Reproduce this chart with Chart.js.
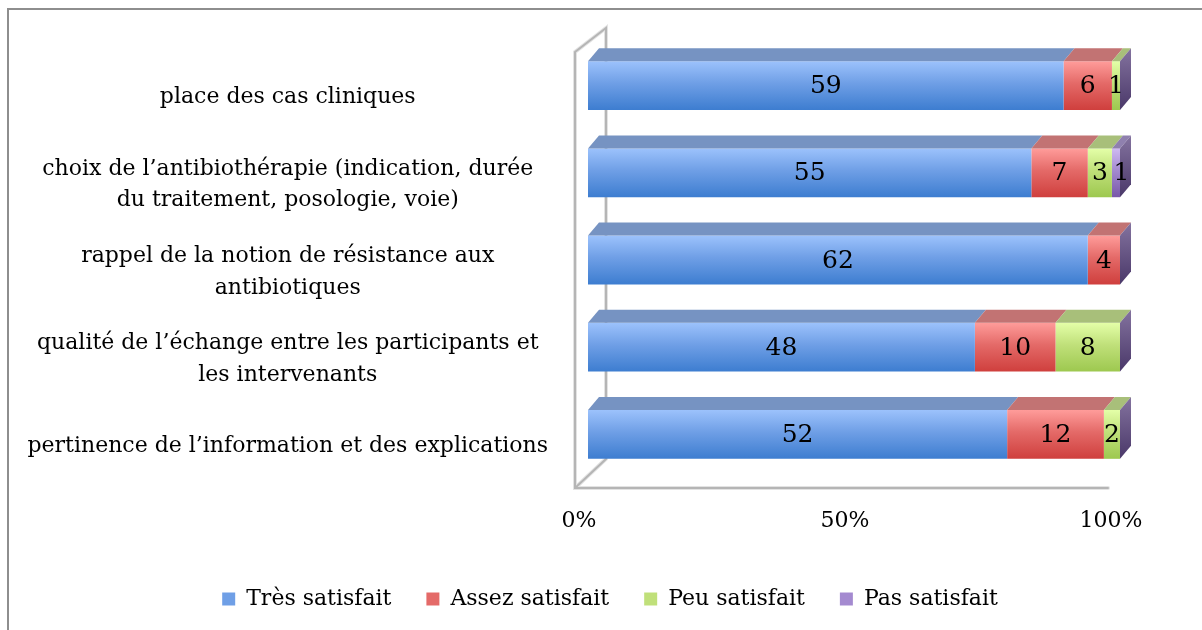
<!DOCTYPE html>
<html>
<head>
<meta charset="utf-8">
<script src="https://cdn.jsdelivr.net/npm/chart.js@4.4.1/dist/chart.umd.min.js"></script>
<style>
    html, body { margin: 0; padding: 0; background: #fff; }
    #frame {
        position: absolute; left: 7px; top: 8px; width: 1200px; height: 630px;
        border-left: 2px solid #8e8e8e; border-top: 2px solid #8e8e8e;
    }
    #chart { position: absolute; left: 0; top: 0; }
</style>
</head>
<body>
<div id="frame"></div>
<canvas id="chart" width="1202" height="630"></canvas>
<script>
const categories = [
    "place des cas cliniques",
    ["choix de l’antibiothérapie (indication, durée", "du traitement, posologie, voie)"],
    ["rappel de la notion de résistance aux", "antibiotiques"],
    ["qualité de l’échange entre les participants et", "les intervenants"],
    "pertinence de l’information et des explications"
];
const seriesNames = ["Très satisfait", "Assez satisfait", "Peu satisfait", "Pas satisfait"];
const tresSatisfait = [59, 55, 62, 48, 52];
const assezSatisfait = [6, 7, 4, 10, 12];
const peuSatisfait = [1, 3, 0, 8, 2];
const pasSatisfait = [0, 1, 0, 0, 0];
const xTicks = [0, 50, 100];

const FONT = "'DejaVu Serif', 'Liberation Serif', serif";
const BAR_RATIO = 0.56;
const DEPTH = { dx: 11, dy: 13 };

// colours of each series: front gradient, top face, side face
const palette = [
    { light: '#9cc2fc', dark: '#3d7dd0', mid: '#6f9fe6', top: '#7693c2', side: ['#6f87b3', '#3b5a8f'] },
    { light: '#ff9c9a', dark: '#cf3f3d', mid: '#e46a68', top: '#c27373', side: ['#b06868', '#8a3434'] },
    { light: '#e4ffa8', dark: '#9dc84f', mid: '#c0e07a', top: '#a8bf7a', side: ['#9bb86a', '#6f9138'] },
    { light: '#cfbaf2', dark: '#7858a8', mid: '#a48ad0', top: '#8f80ae', side: ['#84739f', '#4a3869'] }
];

const rawSeries = [tresSatisfait, assezSatisfait, peuSatisfait, pasSatisfait];
const totals = categories.map((c, j) => rawSeries.reduce((s, arr) => s + arr[j], 0));

function frontGradient(i) {
    return (ctx) => {
        const chart = ctx.chart;
        const yScale = chart.scales.y;
        if (!chart.chartArea || !yScale || ctx.type !== 'data') {
            return palette[i].mid;
        }
        const y = yScale.getPixelForValue(ctx.dataIndex);
        const half = (yScale.height / categories.length) * BAR_RATIO / 2;
        const g = chart.ctx.createLinearGradient(0, y - half, 0, y + half);
        g.addColorStop(0, palette[i].light);
        g.addColorStop(0.45, palette[i].mid);
        g.addColorStop(1, palette[i].dark);
        return g;
    };
}

const datasets = rawSeries.map((arr, i) => ({
    label: seriesNames[i],
    data: arr.map((v, j) => v / totals[j] * 100),
    counts: arr,
    backgroundColor: frontGradient(i),
    borderWidth: 0,
    barPercentage: BAR_RATIO,
    categoryPercentage: 1
}));

/**
 * Draws the left wall and floor of the 3D frame.
 */
const wallPlugin = {
    id: 'wall',
    afterLayout(chart) {
        // legend sits a bit right of the plot centre
        chart.legend.left += 40;
        chart.legend.right += 40;
    },
    beforeDatasetsDraw(chart) {
        const { ctx, chartArea } = chart;
        const x0 = chartArea.left - 13;
        const y0 = chartArea.bottom + 10;
        const x1 = x0 + 31;
        const y1 = y0 - 29;
        const yTopFront = chartArea.top + 10;
        const yTopBack = chartArea.top - 14;
        ctx.save();
        ctx.lineCap = 'round';
        [['#e3e3e3', 4], ['#b5b5b5', 2]].forEach(([color, width]) => {
            ctx.strokeStyle = color;
            ctx.lineWidth = width;
            ctx.beginPath();
            ctx.moveTo(chartArea.right - 12, y0);
            ctx.lineTo(x0, y0);
            ctx.lineTo(x0, yTopFront);
            ctx.lineTo(x1, yTopBack);
            ctx.lineTo(x1, y1);
            ctx.lineTo(x0, y0);
            ctx.stroke();
        });
        ctx.restore();
    }
};

/**
 * Adds the top and side faces of the bars and the count labels.
 */
const bar3dPlugin = {
    id: 'bar3d',
    afterDatasetsDraw(chart) {
        const ctx = chart.ctx;
        const last = chart.data.datasets.length - 1;
        ctx.save();
        chart.data.datasets.forEach((ds, i) => {
            const meta = chart.getDatasetMeta(i);
            meta.data.forEach((bar) => {
                const { x, y, base, height } = bar.getProps(['x', 'y', 'base', 'height'], true);
                const top = y - height / 2;
                const bottom = y + height / 2;
                if (x - base > 0.3) {
                    ctx.fillStyle = palette[i].top;
                    ctx.beginPath();
                    ctx.moveTo(base, top);
                    ctx.lineTo(base + DEPTH.dx, top - DEPTH.dy);
                    ctx.lineTo(x + DEPTH.dx, top - DEPTH.dy);
                    ctx.lineTo(x, top);
                    ctx.closePath();
                    ctx.fill();
                }
                if (i === last) {
                    const g = ctx.createLinearGradient(0, top - DEPTH.dy, 0, bottom);
                    g.addColorStop(0, palette[i].side[0]);
                    g.addColorStop(1, palette[i].side[1]);
                    ctx.fillStyle = g;
                    ctx.beginPath();
                    ctx.moveTo(x, top);
                    ctx.lineTo(x + DEPTH.dx, top - DEPTH.dy);
                    ctx.lineTo(x + DEPTH.dx, bottom - DEPTH.dy);
                    ctx.lineTo(x, bottom);
                    ctx.closePath();
                    ctx.fill();
                }
            });
        });

        ctx.fillStyle = '#000';
        ctx.font = "25px " + FONT;
        ctx.textAlign = 'center';
        ctx.textBaseline = 'middle';
        chart.data.datasets.forEach((ds, i) => {
            const meta = chart.getDatasetMeta(i);
            meta.data.forEach((bar, j) => {
                if (!ds.counts[j]) return;
                const { x, y, base } = bar.getProps(['x', 'y', 'base'], true);
                const right = i === last ? x + DEPTH.dx : x;
                ctx.fillText(String(ds.counts[j]), (right + base) / 2, y + 1);
            });
        });
        ctx.restore();
    }
};

const settings = {
    type: 'bar',
    data: {
        labels: categories,
        datasets: datasets
    },
    options: {
        indexAxis: 'y',
        responsive: false,
        animation: false,
        layout: {
            padding: { top: 42, right: 82, left: 20, bottom: 10 }
        },
        scales: {
            x: {
                stacked: true,
                min: 0,
                max: 100,
                afterBuildTicks: (scale) => {
                    scale.ticks = xTicks.map(v => ({ value: v }));
                },
                afterFit: (scale) => { scale.height = 75; },
                grid: { display: false, drawTicks: false },
                border: { display: false },
                ticks: {
                    padding: 30,
                    labelOffset: -9,
                    color: '#000',
                    font: { family: FONT, size: 22 },
                    callback: (v) => v + '%'
                }
            },
            y: {
                stacked: true,
                afterFit: (scale) => {
                    scale.width = 568;
                    scale.paddingTop = 0;
                    scale.paddingBottom = 0;
                },
                grid: { display: false, drawTicks: false },
                border: { display: false },
                ticks: {
                    padding: 40,
                    crossAlign: 'center',
                    labelOffset: 12,
                    color: '#000',
                    font: { family: FONT, size: 22, lineHeight: 1.45 }
                }
            }
        },
        plugins: {
            tooltip: { enabled: false },
            legend: {
                position: 'bottom',
                labels: {
                    color: '#000',
                    font: { family: FONT, size: 22 },
                    boxWidth: 13,
                    boxHeight: 13,
                    padding: 35,
                    generateLabels: (chart) => chart.data.datasets.map((ds, i) => ({
                        text: ds.label,
                        fillStyle: palette[i].mid,
                        strokeStyle: palette[i].mid,
                        lineWidth: 0,
                        hidden: false,
                        datasetIndex: i
                    }))
                }
            }
        }
    },
    plugins: [wallPlugin, bar3dPlugin]
};

const context = document.getElementById('chart').getContext('2d');
const satisfactionChart = new Chart(context, settings);
</script>
</body>
</html>
